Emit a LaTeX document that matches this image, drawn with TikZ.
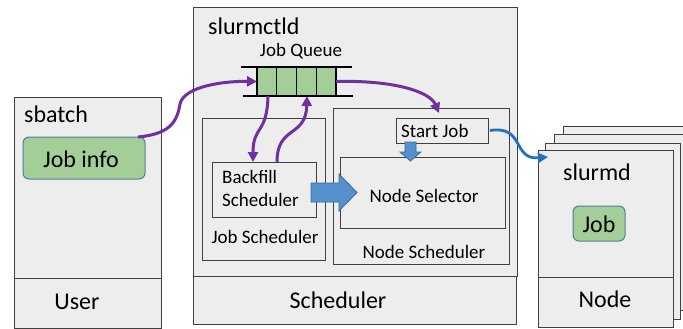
\documentclass[tikz,border=0pt]{standalone}
\usepackage{fontspec}
\setmainfont{Carlito}
\usetikzlibrary{arrows.meta,calc}
\definecolor{boxgray}{RGB}{237,237,237}
\definecolor{jobgreen}{RGB}{163,206,152}
\definecolor{edgeblue}{RGB}{84,124,160}
\definecolor{flowpurple}{RGB}{112,48,160}
\definecolor{flowblue}{RGB}{36,113,188}
\definecolor{blockblue}{RGB}{85,145,205}
\definecolor{blockedge}{RGB}{60,105,150}
\begin{document}
\begin{tikzpicture}[x=1pt,y=-1pt,
 box/.style={draw=black!75, fill=boxgray, line width=1pt, inner sep=0pt, outer sep=0pt, anchor=north west},
 greenbox/.style={draw=edgeblue, fill=jobgreen, line width=1pt, rounded corners=6pt, inner sep=0pt, outer sep=0pt, anchor=north west},
 big/.style={font=\fontsize{24}{28}\selectfont, inner sep=0pt},
 small/.style={font=\fontsize{19}{22}\selectfont, inner sep=0pt},
 flow/.style={draw=flowpurple, line width=3pt, -{Triangle[length=10pt,width=10pt]}},
 bflow/.style={draw=flowblue, line width=2.8pt, -{Triangle[length=10pt,width=10pt]}},
 block/.style={fill=blockblue, draw=blockedge, line width=0.8pt},
 cell/.style={draw=black, fill=jobgreen, line width=1.2pt},
 rail/.style={draw=black, line width=2.5pt},
]
\useasboundingbox (0,0) rectangle (683,329);

% User column
\node[box, minimum width=147pt, minimum height=181pt] (usertop) at (14,97) {};
\node[box, minimum width=147pt, minimum height=50pt] (userbot) at (14,278) {};
\node[greenbox, minimum width=122pt, minimum height=42pt] (jobinfo) at (23,137) {};
\node[big, anchor=base west] (sbatch) at (24,122) {sbatch};
\node[big, anchor=base] (jobinfotxt) at (81,167) {Job info};
\node[big, anchor=base] (user) at (77,309) {User};

% Scheduler column
\node[box, minimum width=324pt, minimum height=268pt] (schedtop) at (193,8) {};
\node[box, minimum width=323pt, minimum height=48pt] (schedbot) at (193,276) {};
\node[big, anchor=base west] (slurmctld) at (208,35) {slurmctld};
\node[big, anchor=base] (schedtxt) at (338,308) {Scheduler};

\node[box, minimum width=123pt, minimum height=142pt] (jobsched) at (202,118) {};
\node[box, minimum width=176pt, minimum height=156pt] (nodesched) at (333,108) {};
\node[box, minimum width=104pt, minimum height=55pt] (backfill) at (212,162) {};
\node[box, minimum width=165pt, minimum height=71pt] (nodesel) at (340,157) {};
\node[box, minimum width=92pt, minimum height=25pt] (startjob) at (396,118) {};

\node[small, anchor=base] (jobschedtxt) at (265,243) {Job Scheduler};
\node[small, anchor=base] (nodeschedtxt) at (424,258) {Node Scheduler};
\node[small, anchor=base west] (bf1) at (222,183) {Backfill};
\node[small, anchor=base west] (bf2) at (222,206) {Scheduler};
\node[small, anchor=base] (nodeseltxt) at (424,202) {Node Selector};
\node[small, anchor=base west] (startjobtxt) at (401,137) {Start Job};
\node[small, anchor=base] (queuetxt) at (301,57) {Job Queue};

% Job queue
\node[anchor=north west, minimum width=79pt, minimum height=29pt, inner sep=0pt, outer sep=0pt] (queue) at (257,67) {};
\foreach \i in {0,...,3}
  \draw[cell] ($(queue.north west)+(\i*19.75,0)$) rectangle +(19.75,29);
\draw[rail] ($(queue.north west)+(-16,0)$) -- ($(queue.north east)+(16,0)$);
\draw[rail] ($(queue.south west)+(-14,0)$) -- ($(queue.south east)+(17,0)$);

% Node stack
\begin{scope}
\clip (0,0) rectangle (683,329);
\node[box, minimum width=135pt, minimum height=176pt] (node4) at (563,126) {};
\node[box, minimum width=135pt, minimum height=176pt] (node3) at (554,134) {};
\node[box, minimum width=135pt, minimum height=176pt] (node2) at (545,143) {};
\end{scope}
\node[box, minimum width=135pt, minimum height=127pt] (nodefront) at (538,150) {};
\node[box, minimum width=135pt, minimum height=50pt] (nodebot) at (538,277) {};
\node[greenbox, minimum width=52pt, minimum height=35pt] (job) at (573,206) {};
\node[big, anchor=base west] (slurmd) at (563,180) {slurmd};
\node[big, anchor=base] (jobtxt) at (599,232) {Job};
\node[big, anchor=base] (nodetxt) at (605,307) {Node};

% Block arrows
\draw[block] (311,183) -- (339,183) -- (339,174) -- (357,192.5) -- (339,211) -- (339,202) -- (311,202) -- cycle;
\draw[block] (405,142) -- (416,142) -- (416,152) -- (421,152) -- (410.5,161) -- (400,152) -- (405,152) -- cycle;

% Flows
\coordinate (nsin) at (439,113);
\coordinate (stackin) at ([xshift=10pt,yshift=-7pt]nodefront.north west);
\draw[flow] ([xshift=-7pt]jobinfo.north east) .. controls (170,134) and (177,122) .. (180,104)
  .. controls (184,86) and (225,81) .. (queue.west);
\draw[flow] (queue.east) .. controls (395,80) and (430,92) .. (nsin);
\draw[flow] ([xshift=11pt]queue.south west) .. controls (267,135) and (253,125) .. ([xshift=41pt]backfill.north west);
\draw[flow] ([xshift=65pt]backfill.north west) .. controls (277,125) and (306,138) .. ([xshift=50pt]queue.south west);
\draw[bflow] ([xshift=2pt]startjob.east) .. controls (525,125) and (512,160) .. (stackin);
\end{tikzpicture}
\end{document}
